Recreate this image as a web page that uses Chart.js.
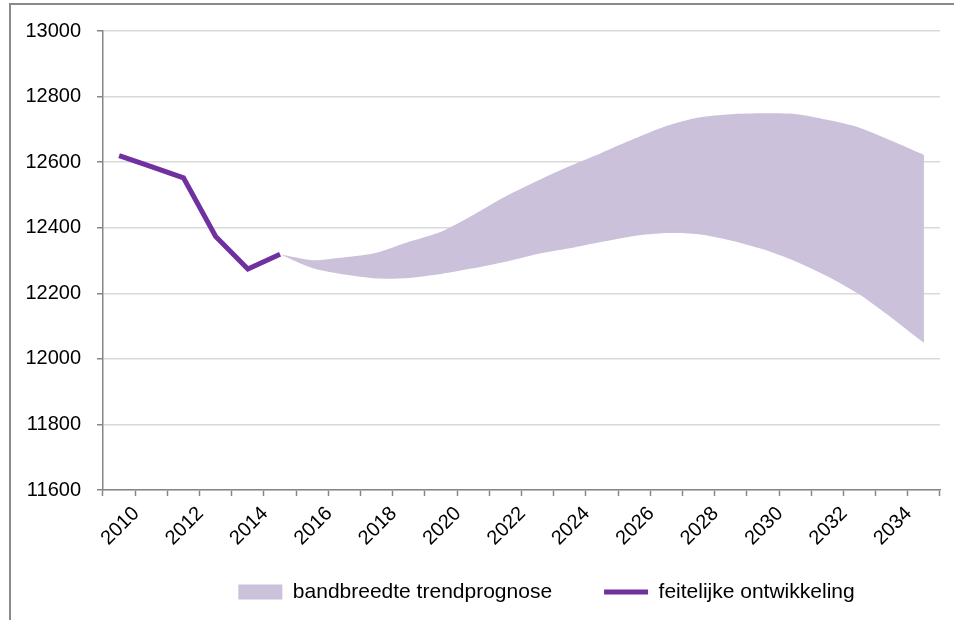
<!DOCTYPE html>
<html>
<head>
<meta charset="utf-8">
<script src="https://cdn.jsdelivr.net/npm/chart.js@4/dist/chart.umd.min.js"></script>
<style>
  html, body { margin: 0; padding: 0; background: #fff; overflow: hidden; }
  #frame { position: absolute; left: 9px; top: 3px; width: 1000px; height: 1000px;
           border-top: 2px solid #8a8a8a; border-left: 2px solid #8a8a8a; }
  #wrap { position: absolute; left: 0; top: 0; width: 954px; height: 620px; }
</style>
</head>
<body>
<div id="frame"></div>
<div id="wrap"><canvas id="c" width="954" height="620"></canvas></div>
<script>
const years = ["2010","2011","2012","2013","2014","2015","2016","2017","2018","2019","2020","2021","2022",
               "2023","2024","2025","2026","2027","2028","2029","2030","2031","2032","2033","2034","2035"];
const actual = [12620, 12586, 12552, 12373, 12274, 12319,
                null, null, null, null, null, null, null, null, null, null, null, null, null, null, null, null, null, null, null, null];
const bandLow = [null, null, null, null, null,
                 12319, 12277, 12257, 12245, 12247, 12259, 12276, 12296, 12320, 12337, 12357,
                 12375, 12384, 12380, 12361, 12334, 12298, 12252, 12196, 12125, 12049];
const bandHigh = [null, null, null, null, null,
                  12319, 12301, 12310, 12324, 12357, 12388, 12439, 12495, 12543, 12588, 12629,
                  12671, 12710, 12736, 12746, 12749, 12747, 12729, 12705, 12665, 12622];
const yTicks = [11600, 11800, 12000, 12200, 12400, 12600, 12800, 13000];

const axisGray = '#868686';
const gridGray = '#d9d9d9';
const FONT = "'Liberation Sans', Arial, sans-serif";

// shift the legend row sideways after layout (reference legend is right of centre)
const legendShift = {
  id: 'legendShift',
  afterLayout(chart) {
    const lg = chart.legend;
    if (lg) { lg.left += 25; lg.right += 25; }
  }
};

new Chart(document.getElementById('c'), {
  type: 'line',
  plugins: [legendShift],
  data: {
    labels: years,
    datasets: [
      {
        label: 'bandbreedte trendprognose',
        data: bandHigh,
        borderWidth: 0,
        borderColor: '#CBC1DB',
        backgroundColor: '#CBC1DB',
        pointRadius: 0,
        pointStyle: 'rect',
        tension: 0.25,
        fill: { target: 1 }
      },
      {
        label: 'low',
        data: bandLow,
        borderWidth: 0,
        borderColor: '#CBC1DB',
        backgroundColor: '#CBC1DB',
        pointRadius: 0,
        tension: 0.25,
        fill: false
      },
      {
        label: 'feitelijke ontwikkeling',
        data: actual,
        borderColor: '#7030A0',
        backgroundColor: '#7030A0',
        borderWidth: 5,
        pointRadius: 0,
        pointStyle: 'line',
        tension: 0,
        fill: false,
        order: -1
      }
    ]
  },
  options: {
    responsive: false,
    animation: false,
    devicePixelRatio: 1,
    layout: { padding: { left: 0, right: 14, top: 31, bottom: 7.5 } },
    plugins: {
      title: { display: false },
      tooltip: { enabled: false },
      legend: {
        position: 'bottom',
        fullSize: false,
        labels: {
          usePointStyle: true,
          pointStyleWidth: 44,
          boxHeight: 15,
          padding: 10,
          color: '#000',
          font: { family: FONT, size: 21 },
          filter: (item) => item.datasetIndex !== 1,
          sort: (a, b) => a.datasetIndex - b.datasetIndex,
          generateLabels: (chart) => {
            const items = Chart.defaults.plugins.legend.labels.generateLabels(chart);
            items.forEach(it => { if (it.datasetIndex === 0) it.text = it.text + '\u2003\u2003'; });
            return items;
          }
        }
      }
    },
    scales: {
      x: {
        type: 'category',
        offset: true,
        afterFit: (s) => { s.height = 81.5; },
        grid: {
          display: true,
          offset: true,
          drawOnChartArea: false,
          drawTicks: true,
          tickLength: 6,
          tickColor: axisGray,
          tickWidth: 1.5
        },
        border: { display: true, color: axisGray, width: 1.5 },
        ticks: {
          autoSkip: false,
          minRotation: 45,
          maxRotation: 45,
          padding: 6,
          labelOffset: 17,
          color: '#000',
          font: { family: FONT, size: 20 },
          callback: function (val, idx) { return idx % 2 === 0 ? this.getLabelForValue(val) : ''; }
        }
      },
      y: {
        min: 11600,
        max: 13000,
        afterFit: (s) => { s.width = 103; },
        afterBuildTicks: (s) => { s.ticks = yTicks.map(v => ({ value: v })); },
        grid: {
          color: gridGray,
          lineWidth: 1.5,
          tickLength: 6,
          tickColor: axisGray,
          tickWidth: 1.5
        },
        border: { display: true, color: axisGray, width: 1.5 },
        ticks: {
          padding: 16,
          color: '#000',
          font: { family: FONT, size: 20 },
          callback: (v) => String(v)
        }
      }
    }
  }
});
</script>
</body>
</html>
